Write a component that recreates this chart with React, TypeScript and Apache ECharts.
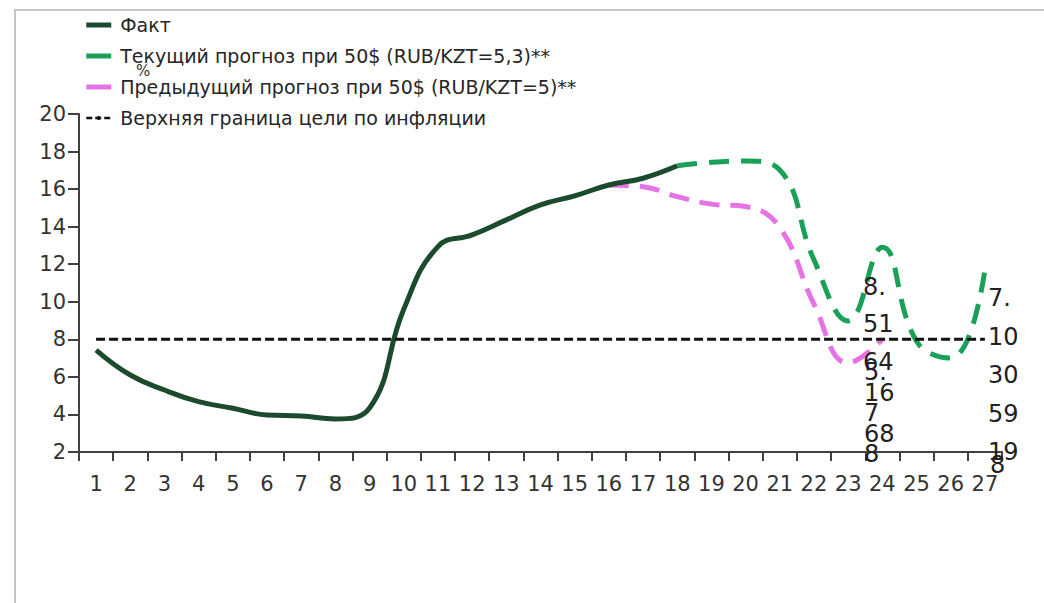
import React, { useEffect, useRef } from "react";
import * as echarts from "echarts";

const categories = ["1","2","3","4","5","6","7","8","9","10","11","12","13","14","15","16","17","18","19","20","21","22","23","24","25","26","27"];

const factName = "Факт";
const currentName = "Текущий прогноз при 50$ (RUB/KZT=5,3)**";
const previousName = "Предыдущий прогноз при 50$ (RUB/KZT=5)**";
const boundName = "Верхняя граница цели по инфляции";

const factValues = [7.43, 6.1, 5.3, 4.68, 4.33, 3.97, 3.92, 3.76, 4.34, 9.6, 12.94, 13.56, 14.36, 15.16, 15.64, 16.22, 16.58, 17.24, null, null, null, null, null, null, null, null, null];
const currentForecast = [null, null, null, null, null, null, null, null, null, null, null, null, null, null, null, null, null, 17.24, 17.43, 17.5, 17.02, 12.23, 8.98, 12.9, 7.9, 7.0, 11.7];
const previousForecast = [null, null, null, null, null, null, null, null, null, null, null, null, null, null, null, 16.22, 16.13, 15.6, 15.2, 15.07, 13.95, 9.88, 6.75, 8.0, null, null, null];
const upperBound = [8, 8, 8, 8, 8, 8, 8, 8, 8, 8, 8, 8, 8, 8, 8, 8, 8, 8, 8, 8, 8, 8, 8, 8, 8, 8, 8];

const yTicks = { min: 2, max: 20, interval: 2 };
const unitLabel = "%";

// stray value labels seen in the picture
const noteA = ["8.", "51", "64"];
const noteB = ["5.", "16", "7", "68", "8"];
const noteC = ["7.", "10", "30", "59", "19"];
const noteD = ["8"];

const FONT = '"DejaVu Sans", "Noto Sans", sans-serif';

export default function App() {
  const ref = useRef<HTMLDivElement>(null);
  useEffect(() => {
    if (!ref.current) return;
    const chart = echarts.init(ref.current, null, { renderer: "svg" });
    const noteStyle = (lines: string[], lh: number) => ({
      text: lines.join("\n"),
      fill: "#222",
      font: `24px ${FONT}`,
      lineHeight: lh,
      align: "left",
      verticalAlign: "top",
    });
    chart.setOption({
      animation: false,
      backgroundColor: "#fff",
      textStyle: { fontFamily: FONT },
      grid: { left: 79, right: 42, top: 114, bottom: 151, containLabel: false },
      legend: {
        orient: "vertical",
        left: 85,
        top: 14,
        padding: 0,
        itemWidth: 25,
        itemHeight: 5,
        itemGap: 9,
        textStyle: { fontFamily: FONT, fontSize: 19, color: "#262626", lineHeight: 22, padding: [0, 0, 0, 4] },
        data: [
          { name: factName, icon: "rect" },
          { name: currentName, icon: "rect" },
          { name: previousName, icon: "rect" },
          { name: boundName, lineStyle: { type: [6, 3], width: 2.5, color: "#111" } },
        ],
      },
      xAxis: {
        type: "category",
        data: categories,
        boundaryGap: true,
        axisLine: { show: true, lineStyle: { color: "#404040", width: 2 } },
        axisTick: { show: true, inside: false, length: 9, alignWithLabel: false, lineStyle: { color: "#404040", width: 2 } },
        axisLabel: { fontFamily: FONT, fontSize: 21, color: "#333", margin: 21, interval: 0 },
        splitLine: { show: false },
      },
      yAxis: {
        type: "value",
        min: yTicks.min,
        max: yTicks.max,
        interval: yTicks.interval,
        axisLine: { show: true, lineStyle: { color: "#404040", width: 2 } },
        axisTick: { show: true, inside: false, length: 11, lineStyle: { color: "#404040", width: 2 } },
        axisLabel: { fontFamily: FONT, fontSize: 21, color: "#333", margin: 13 },
        splitLine: { show: false },
      },
      series: [
        {
          name: factName,
          type: "line",
          data: factValues,
          smooth: 0.45,
          symbol: "none",
          color: "#1b4a2c",
          lineStyle: { color: "#1b4a2c", width: 5 },
          z: 3,
        },
        {
          name: currentName,
          type: "line",
          data: currentForecast,
          smooth: 0.45,
          symbol: "none",
          color: "#1aa157",
          lineStyle: { color: "#1aa157", width: 5, type: [20, 12] },
          z: 2,
        },
        {
          name: previousName,
          type: "line",
          data: previousForecast,
          smooth: 0.45,
          symbol: "none",
          color: "#e673e6",
          lineStyle: { color: "#e673e6", width: 5, type: [20, 11] },
          z: 2,
        },
        {
          name: boundName,
          type: "line",
          data: upperBound,
          symbol: "none",
          color: "#111",
          lineStyle: { color: "#111", width: 3, type: [9, 4] },
          z: 4,
        },
      ],
      graphic: [
        { type: "line", shape: { x1: 15, y1: 10, x2: 15, y2: 603 }, style: { stroke: "#c4c4c4", lineWidth: 2 }, silent: true },
        { type: "line", shape: { x1: 14, y1: 10, x2: 1044, y2: 10 }, style: { stroke: "#c4c4c4", lineWidth: 2 }, silent: true },
        { type: "text", x: 136, y: 63, style: { text: unitLabel, fill: "#333", font: `15px ${FONT}` }, z: 10 },
        { type: "text", x: 863, y: 268, style: noteStyle(noteA, 37.5), z: 10 },
        { type: "text", x: 864, y: 362, style: noteStyle(noteB, 20.5), z: 10 },
        { type: "text", x: 988, y: 279, style: noteStyle(noteC, 38.5), z: 10 },
        { type: "text", x: 990, y: 450, style: noteStyle(noteD, 30), z: 10 },
      ],
    });
    return () => chart.dispose();
  }, []);
  return <div ref={ref} style={{ position: "fixed", left: 0, top: 0, width: 1044, height: 603 }} />;
}
